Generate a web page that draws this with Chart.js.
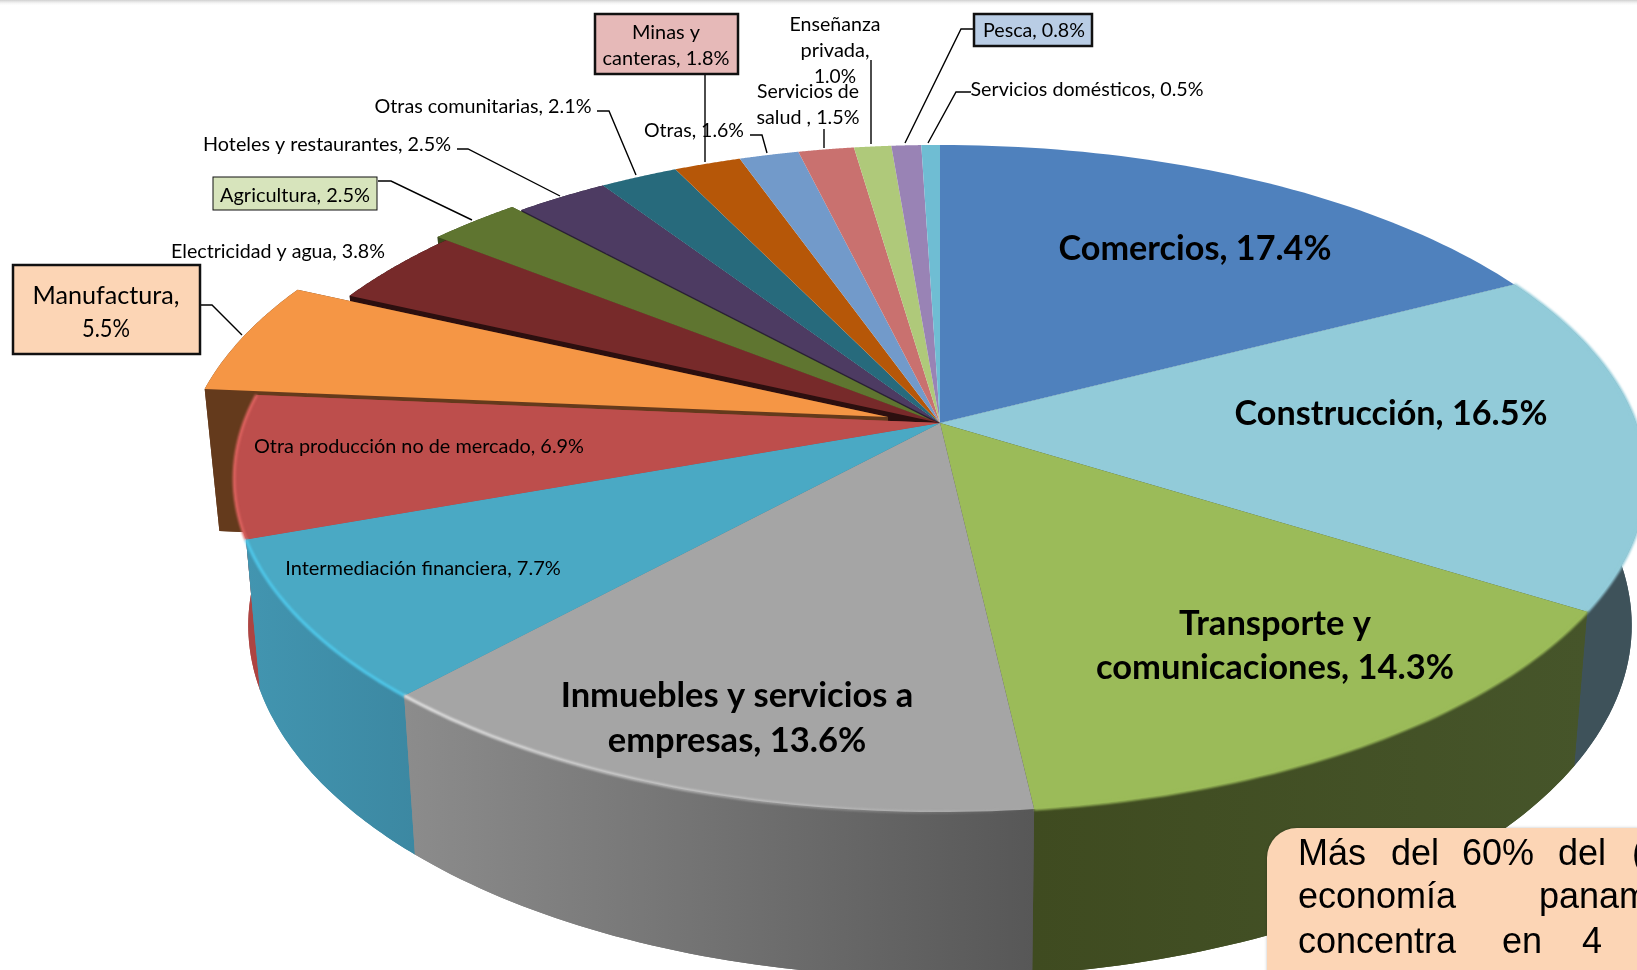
<!DOCTYPE html>
<html lang="es">
<head>
<meta charset="utf-8">
<title>PIB por sector</title>
<script src="https://cdn.jsdelivr.net/npm/chart.js@4"></script>
<style>
  html, body { margin: 0; padding: 0; background: #fff; overflow: hidden; }
  canvas { display: block; }
</style>
</head>
<body>
<canvas id="graficoSectores" width="1637" height="970"></canvas>
<script>
// ===================================== Datos ==================
const sectores = ['Comercios', 'Construcción', 'Transporte y comunicaciones', 'Inmuebles y servicios a empresas',
    'Intermediación financiera', 'Otra producción no de mercado', 'Manufactura', 'Electricidad y agua', 'Agricultura',
    'Hoteles y restaurantes', 'Otras comunitarias', 'Minas y canteras', 'Otras', 'Servicios de salud',
    'Enseñanza privada', 'Pesca', 'Servicios domésticos'];
const valores = [17.4, 16.5, 14.3, 13.6, 7.7, 6.9, 5.5, 3.8, 2.5, 2.5, 2.1, 1.8, 1.6, 1.5, 1.0, 0.8, 0.5];
const colores = ['#4f81bd', '#92cbd9', '#9bbb59', '#a5a5a5', '#4aa9c4', '#bd4e4c', '#f59645', '#772a2a', '#5f7530',
    '#4d3b62', '#276a7c', '#b65708', '#729aca', '#c9716f', '#afc97a', '#9983b5', '#6fbdd3'];

// ===================================== Perspectiva del pastel ==================
const CX = 940, CY = 423, RX = 696, RY = 324.3, PERSP = 0.1664;

// Porciones separadas del centro: indice -> desplazamiento
const separadas = { 6: [-52, -6], 8: [-9, -3] };

// Paredes: indice -> colores [izquierda, derecha]. El orden es de atras hacia adelante
const paredes = [
    [9, '#2a2036', '#2a2036'],
    [8, '#39481b', '#39481b'],
    [7, '#2c0f0f', '#2c0f0f'],
    [6, '#643a1c', '#643a1c'],
    [1, '#3e525a', '#3e525a'],
    [5, '#ad4442', '#ad4442'],
    [2, '#3f4b20', '#46552a'],
    [4, '#4295b0', '#3c88a2'],
    [3, '#8c8c8c', '#575757']
];

// Borde iluminado de la cara superior: indice, color inicial, color final
const brillos = [
    [1, '#92cbd9', '#92cbd9'],
    [2, '#9bbb59', '#9bbb59'],
    [5, '#dc625e', '#dc625e'],
    [4, '#4fc8ea', '#4fc8ea'],
    [3, 'rgba(225,225,225,0)', '#e4e4e4']
];

function proyectar(ang, off) {
    const u = Math.cos(ang), v = Math.sin(ang), w = 1 - PERSP * v;
    const d = off || [0, 0];
    return [CX + RX * u / w + d[0], CY + RY * v / w + d[1]];
}

function bajar(p) {
    return [p[0] + (CX - p[0]) * 0.02, p[1] + 142 + 0.055 * (p[1] - 389)];
}

function puntosArco(arc, off) {
    const pts = [], pasos = 50;
    for (let k = 0; k <= pasos; k++) {
        pts.push(proyectar(arc.startAngle + (arc.endAngle - arc.startAngle) * k / pasos, off));
    }
    return pts;
}

function poligono(ctx, pts, relleno) {
    ctx.beginPath();
    pts.forEach((p, k) => k ? ctx.lineTo(p[0], p[1]) : ctx.moveTo(p[0], p[1]));
    ctx.closePath();
    ctx.fillStyle = relleno;
    ctx.fill();
}

function dibujarPared(ctx, arc, off, izq, der) {
    const arriba = puntosArco(arc, off);
    const abajo = arriba.map(bajar);
    const d = off || [0, 0];
    const centro = [CX + d[0], CY + d[1]];
    const centroAbajo = bajar(centro);
    const xs = arriba.concat(abajo).map(p => p[0]);
    const grad = ctx.createLinearGradient(Math.min(...xs), 0, Math.max(...xs), 0);
    grad.addColorStop(0, izq);
    grad.addColorStop(1, der);
    // caras de corte
    poligono(ctx, [centro, arriba[0], abajo[0], centroAbajo], grad);
    poligono(ctx, [centro, arriba[arriba.length - 1], abajo[abajo.length - 1], centroAbajo], grad);
    poligono(ctx, [centroAbajo].concat(abajo), grad);
    // pared exterior
    poligono(ctx, arriba.concat(abajo.slice().reverse()), grad);
}

// ===================================== Etiquetas ==================
const lineasGuia = [
    [[201, 305], [212, 305], [242, 335]],
    [[378, 181], [391, 181], [472, 220]],
    [[457, 149], [468, 149], [560, 196]],
    [[597, 111], [609, 111], [636, 175]],
    [[705, 74], [705, 162]],
    [[750, 135], [762, 135], [767, 153]],
    [[824, 129], [824, 148]],
    [[871, 60], [871, 144]],
    [[974, 29], [961, 29], [905, 143]],
    [[971, 92], [956, 92], [928, 143]]
];

const cajas = [
    [13, 265, 187, 89, '#fcd5b5', 2.5],
    [213, 177, 164, 33, '#d7e4bc', 1],
    [595, 14, 143, 60, '#e6b9b8', 2.5],
    [974, 14, 118, 32, '#b9cde5', 2.5]
];

// texto, centro x, centro y, ancho, tamano, negrita
const etiquetas = [
    ['Comercios, 17.4%', 1195, 247, 273, 34.5, true],
    ['Construcción, 16.5%', 1391, 412, 313, 34.5, true],
    ['Transporte y', 1275, 622, 193, 34.5, true],
    ['comunicaciones, 14.3%', 1275, 666, 360, 34.5, true],
    ['Inmuebles y servicios a', 737, 694, 357, 34.5, true],
    ['empresas, 13.6%', 737, 739, 261, 34.5, true],
    ['Otra producción no de mercado, 6.9%', 419, 445, 330, 20, false],
    ['Intermediación financiera, 7.7%', 423, 567, 277, 20, false],
    ['Manufactura,', 106, 294, 147, 25.5, false],
    ['5.5%', 106, 327, 48, 25.5, false],
    ['Electricidad y agua, 3.8%', 278, 250, 214, 20, false],
    ['Agricultura, 2.5%', 295, 194, 150, 20, false],
    ['Hoteles y restaurantes, 2.5%', 327, 143, 248, 20, false],
    ['Otras comunitarias, 2.1%', 483, 105, 217, 20, false],
    ['Minas y', 666, 31, 68, 20, false],
    ['canteras, 1.8%', 666, 57, 127, 20, false],
    ['Otras, 1.6%', 694, 129, 100, 20, false],
    ['Enseñanza', 835, 23, 91, 20, false],
    ['privada,', 835, 49, 69, 20, false],
    ['1.0%', 835, 75, 42, 20, false],
    ['Servicios de', 808, 90, 102, 20, false],
    ['salud , 1.5%', 808, 116, 103, 20, false],
    ['Pesca, 0.8%', 1034, 29, 102, 20, false],
    ['Servicios domésticos, 0.5%', 1087, 88, 233, 20, false]
];

// palabra, x, linea base: el texto va justificado
const notaPalabras = [
    ['Más', 1298, 865], ['del', 1391, 865], ['60%', 1462, 865], ['del', 1558, 865], ['(PIB)', 1632, 865],
    ['economía', 1298, 908], ['panameña', 1539, 908],
    ['concentra', 1298, 953], ['en', 1502, 953], ['4', 1582, 953]
];

function dibujarNota(ctx) {
    ctx.save();
    ctx.shadowColor = 'rgba(0,0,0,0.25)';
    ctx.shadowBlur = 3;
    ctx.beginPath();
    ctx.roundRect(1267, 828, 420, 200, 30);
    ctx.fillStyle = '#fcd5b5';
    ctx.fill();
    ctx.restore();
    ctx.save();
    ctx.fillStyle = '#000';
    ctx.font = '36px "Liberation Sans"';
    ctx.textAlign = 'left';
    ctx.textBaseline = 'alphabetic';
    notaPalabras.forEach(p => ctx.fillText(p[0], p[1], p[2]));
    ctx.restore();
}

// ===================================== Plugin que dibuja el pastel en 3D ==================
const pastel3d = {
    id: 'pastel3d',
    beforeDatasetsDraw(chart) {
        const ctx = chart.ctx;
        const arcos = chart.getDatasetMeta(0).data;

        // sombra gris en el borde superior de la captura
        const sombra = ctx.createLinearGradient(0, 0, 0, 6);
        sombra.addColorStop(0, '#cfcfcf');
        sombra.addColorStop(1, 'rgba(255,255,255,0)');
        ctx.fillStyle = sombra;
        ctx.fillRect(0, 0, 1637, 6);

        paredes.forEach(p => dibujarPared(ctx, arcos[p[0]], separadas[p[0]], p[1], p[2]));

        // Manufactura va debajo del resto de caras superiores
        const orden = [6].concat(arcos.map((a, i) => i).filter(i => i !== 6));
        orden.forEach(i => {
            const off = separadas[i] || [0, 0];
            const pts = [[CX + off[0], CY + off[1]]].concat(puntosArco(arcos[i], off));
            poligono(ctx, pts, colores[i]);
        });

        ctx.save();
        ctx.filter = 'blur(0.8px)';
        brillos.forEach(b => {
            const pts = puntosArco(arcos[b[0]]);
            const grad = ctx.createLinearGradient(pts[0][0], 0, pts[pts.length - 1][0], 0);
            grad.addColorStop(0, b[1]);
            grad.addColorStop(1, b[2]);
            ctx.beginPath();
            pts.forEach((p, k) => k ? ctx.lineTo(p[0], p[1]) : ctx.moveTo(p[0], p[1]));
            ctx.strokeStyle = grad;
            ctx.lineWidth = 3;
            ctx.stroke();
        });
        ctx.restore();

        // cajas y lineas guia
        ctx.strokeStyle = '#000';
        ctx.lineWidth = 1.4;
        lineasGuia.forEach(l => {
            ctx.beginPath();
            l.forEach((p, k) => k ? ctx.lineTo(p[0], p[1]) : ctx.moveTo(p[0], p[1]));
            ctx.stroke();
        });
        cajas.forEach(c => {
            ctx.fillStyle = c[4];
            ctx.fillRect(c[0], c[1], c[2], c[3]);
            ctx.strokeStyle = '#111';
            ctx.lineWidth = c[5];
            ctx.strokeRect(c[0], c[1], c[2], c[3]);
        });

        ctx.fillStyle = '#000';
        ctx.textAlign = 'center';
        ctx.textBaseline = 'middle';
        etiquetas.forEach(e => {
            ctx.font = (e[5] ? 'bold ' : '') + e[4] + 'px Lato';
            ctx.fillText(e[0], e[1], e[2] + 2, e[3]);
        });

        dibujarNota(ctx);
        return false;
    }
};

// ===================================== Grafico ==================
const chartSectores = new Chart(document.getElementById('graficoSectores'), {
    type: 'pie',
    data: {
        labels: sectores,
        datasets: [{ data: valores, backgroundColor: colores, borderWidth: 0 }]
    },
    options: {
        responsive: false,
        animation: false,
        events: [],
        plugins: { legend: { display: false }, tooltip: { enabled: false } }
    },
    plugins: [pastel3d]
});
</script>
</body>
</html>
